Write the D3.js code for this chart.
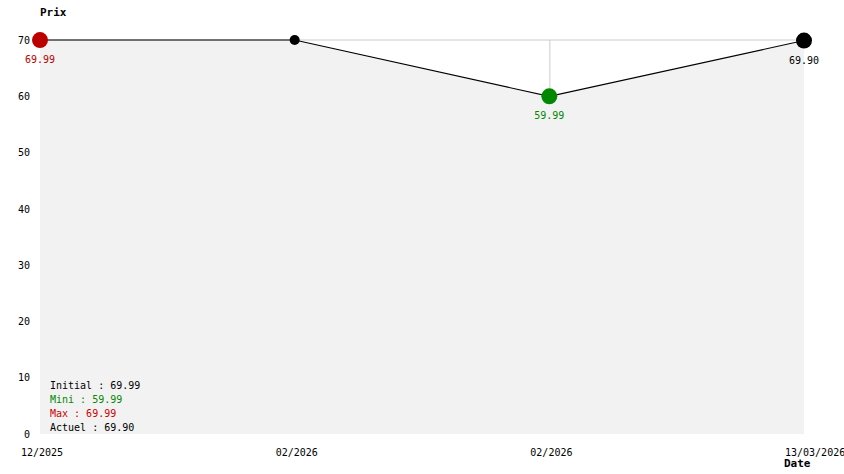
<!DOCTYPE html>
<html><head><meta charset="utf-8">
<script src="https://cdn.jsdelivr.net/npm/d3@7"></script>
<style>body{margin:0;background:#fff}svg{display:block}text{font-family:"DejaVu Sans Mono",monospace;font-size:10px}</style>
</head><body><svg id="c" width="844" height="474"></svg>
<script>
const dates = ["12/2025","02/2026","02/2026","13/03/2026"];
const prices = [69.99, 69.99, 59.99, 69.90];
const yTicks = [0,10,20,30,40,50,60,70];
const legendLabels = ["Initial : 69.99","Mini : 59.99","Max : 69.99","Actuel : 69.90"];
const legendColors = ["#000","#008800","#cc0000","#000"];

const svg = d3.select("#c");
const W=844,H=474, L=40, R=804, T=40, B=434;
const x = d3.scalePoint().domain(d3.range(dates.length)).range([L,R]);
const y = d3.scaleLinear().domain([0,70]).range([B,T]);
const data = prices.map((v,i)=>({i,v}));

// area fill
svg.append("path").datum(data)
  .attr("d", d3.area().x(d=>x(d.i)).y0(B).y1(d=>y(d.v)))
  .attr("fill","#f2f2f2");
// top gridline
svg.append("line").attr("x1",L).attr("x2",R).attr("y1",y(70)).attr("y2",y(70)).attr("stroke","#cccccc");
// vertical line at min
const minI = prices.indexOf(d3.min(prices));
svg.append("line").attr("x1",x(minI)+0.5).attr("x2",x(minI)+0.5).attr("y1",y(70)).attr("y2",y(prices[minI])).attr("stroke","#cccccc");
// line
svg.append("path").datum(data)
  .attr("d", d3.line().x(d=>x(d.i)).y(d=>y(d.v)))
  .attr("fill","none").attr("stroke","#000").attr("stroke-width",1.1);

// y axis labels
const yAxis = d3.axisLeft(y).tickValues(yTicks).tickSize(0).tickPadding(10).tickFormat(d3.format("d"));
const ga = svg.append("g").attr("transform",`translate(${L},0)`).call(yAxis);
ga.select(".domain").remove();
ga.selectAll("text").style("font-family","DejaVu Sans Mono").style("font-size","10px").attr("fill","#000");

// x labels
svg.selectAll(".xl").data(dates).join("text")
  .attr("x",(d,i)=>x(i)-19).attr("y",456).text(d=>d).attr("fill","#000");

// points
const pcolors = ["#bb0000","#000","#008800","#000"];
const pr = [8,5,8,8];
svg.selectAll(".pt").data(data).join("circle")
  .attr("cx",d=>x(d.i)).attr("cy",d=>y(d.v)).attr("r",(d,i)=>pr[i]).attr("fill",(d,i)=>pcolors[i]);

// value labels
const vl = [[0,"#bb0000"],[2,"#008800"],[3,"#000"]];
vl.forEach(([i,c])=>{
  svg.append("text").attr("x",x(i)).attr("y",y(prices[i])+23).attr("text-anchor","middle")
    .attr("fill",c).text(prices[i].toFixed(2));
});

// titles
svg.append("text").attr("x",40).attr("y",16).attr("font-weight","bold").style("font-size","11px").text("Prix");
svg.append("text").attr("x",784).attr("y",467).attr("font-weight","bold").style("font-size","11px").text("Date");

// legend
svg.selectAll(".lg").data(legendLabels).join("text")
  .attr("x",50).attr("y",(d,i)=>389+i*14).attr("fill",(d,i)=>legendColors[i]).text(d=>d);
</script></body></html>
